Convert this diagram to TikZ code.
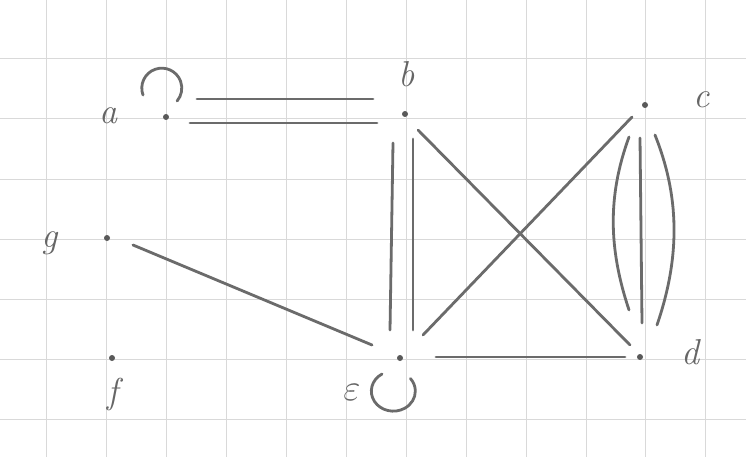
\documentclass[tikz,border=0pt]{standalone}
\begin{document}
\begin{tikzpicture}[x=1pt,y=-1pt,
  gridline/.style={draw=black!15,line width=1pt},
  pencil/.style={draw=black!58,line width=2.8pt,line cap=round},
  vtx/.style={circle,fill=black!65,inner sep=0pt,minimum size=6pt},
  lbl/.style={text=black!60,font=\fontsize{36}{36}\selectfont\itshape,inner sep=0pt}]
\fill[white] (0,0) rectangle (746,457);
\useasboundingbox (0,0) rectangle (746,457);
% grid
\foreach \gx in {46,106,166,226,286,346,406,466,526,586,645,705}
  \draw[gridline] (\gx,0) -- (\gx,457);
\foreach \gy in {0,59,119,179,239,299,359,419}
  \draw[gridline] (0,\gy) -- (746,\gy);
% vertices
\node[vtx] (a) at (166,117) {};
\node[vtx] (b) at (405,114) {};
\node[vtx] (c) at (645,105) {};
\node[vtx] (d) at (640,357) {};
\node[vtx] (e) at (400,358) {};
\node[vtx] (f) at (112,358) {};
\node[vtx] (g) at (107,238) {};
% labels
\node[lbl] (la) at (108,116) {a};
\node[lbl] (lb) at (407,74) {b};
\node[lbl] (lc) at (702,100) {c};
\node[lbl] (ld) at (690,352) {d};
\node[lbl] (le) at (352,392) {\scalebox{1.5}{$\varepsilon$}};
\node[lbl] (lf) at (113,394) {f};
\node[lbl] (lg) at (50,243) {g};
% loops
\draw[pencil] ([shift={(-23,-22)}]a.center) arc[start angle=160,end angle=400,radius=20];
\draw[pencil] ([shift={(-18,16)}]e.center) arc[start angle=239,end angle=-39,x radius=22,y radius=20];
% a-b double
\draw[pencil] ([shift={(31,-18)}]a.center) -- ([shift={(-32,-15)}]b.center);
\draw[pencil] ([shift={(24,6)}]a.center) -- ([shift={(-28,9)}]b.center);
% b-e double
\draw[pencil] ([shift={(-12,29)}]b.center) -- ([shift={(-10,-28)}]e.center);
\draw[pencil] ([shift={(8,25)}]b.center) -- ([shift={(13,-28)}]e.center);
% diagonals
\draw[pencil] ([shift={(13,16)}]b.center) -- ([shift={(-10,-12)}]d.center);
\draw[pencil] ([shift={(-13,12)}]c.center) -- ([shift={(23,-23)}]e.center);
% c-d triple
\draw[pencil] ([shift={(-5,33)}]c.center) -- ([shift={(2,-34)}]d.center);
\draw[pencil] ([shift={(-16,32)}]c.center) .. controls +(-22,60) and +(-20,-60) .. ([shift={(-11,-47)}]d.center);
\draw[pencil] ([shift={(10,30)}]c.center) .. controls +(24,60) and +(24,-70) .. ([shift={(17,-32)}]d.center);
% g-e, e-d
\draw[pencil] ([shift={(26,7)}]g.center) -- ([shift={(-28,-13)}]e.center);
\draw[pencil] ([shift={(36,-1)}]e.center) -- ([shift={(-15,0)}]d.center);
\end{tikzpicture}
\end{document}
